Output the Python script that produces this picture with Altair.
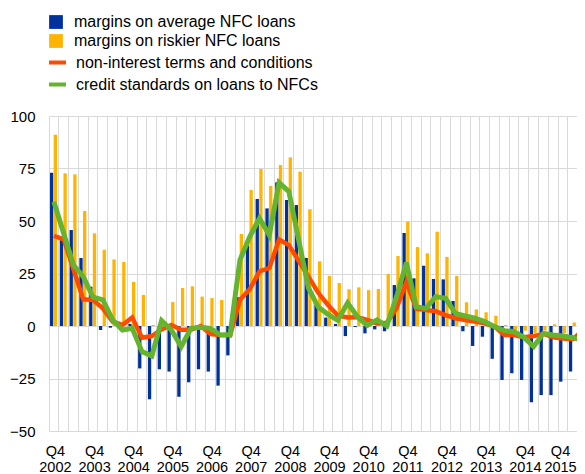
import altair as alt
import pandas as pd

quarters = [f"{y}Q{q}" for y in range(2002, 2017) for q in range(1, 5)][3:3 + 55]

avg_margins = [73, 42, 45.7, 32.4, 18.7, -1.9, -0.8, 0, 1, -20.2, -34.9, -20.6, -21.7, -33.7, -26.8,
               -20.6, -21.7, -28.4, -14, 13.7, 38.3, 60.5, 56, 68.4, 60, 57.6, 32.4, 10, 4, 1,
               -4.8, -0.5, -3.5, -1.6, -2.5, 19.5, 44.3, 22.7, 28.7, 22.4, 22.2, 11.9, -2.5, -9.5,
               -5.1, -15.6, -25.7, -22.5, -25.7, -36.3, -32.9, -32.9, -26.5, -21.7, -31.7]
risky_margins = [91.1, 72.7, 72.2, 54.8, 44.1, 36.3, 31.7, 30.5, 21, 14.8, 0.5, 0, 11.4, 18.1, 18.9,
                 14, 13.3, 12.4, 0, 43.8, 64.8, 74.8, 66.7, 76.7, 80.3, 73.5, 55.6, 30.8, 23.8, 20.5,
                 17.5, 18.4, 17.1, 17.6, 24.8, 33.3, 49.7, 37.6, 34.6, 44.9, 32.9, 23.8, 11.3, 7.9,
                 6.5, 4.9, 0.5, -2.2, -2.2, -3.5, -2.2, 0.8, -3.5, 1.7, 0.5]
non_interest = [42.9, 41.3, 27, 12.7, 12.4, 8.4, 2.1, 0.5, 4.1, -5.6, -4.8, -1.6, 0.5, -1.8, -1.8,
                0, -3.8, -4.3, -4.5, 12.4, 17.5, 26, 27.6, 41.2, 38.5, 31, 23.5, 15.8, 10, 5,
                4.1, 4.2, 2.9, 1.2, 1.5, 8.5, 21, 8.2, 7.6, 7, 5.2, 3.7, 2.9, 2.1, 1.3, -0.3,
                -4.3, -4.3, -5.4, -4.8, -3.8, -5.4, -5.9, -6.3, -2.2]
credit_std = [59.2, 44.1, 29, 23.5, 13.7, 12.4, 2.9, -1.9, -1.1, -12.2, -14.3, 2.5, -1.9, -9.8, -1.1,
              -0.6, -1.1, -4.3, -4, 31.4, 42.5, 51.3, 43.3, 68.3, 64, 41, 18, 9, 5.5, 2.7,
              11, 4.4, 0.3, 2.9, 0, 14, 30.2, 9.2, 8.4, 14, 13.2, 6, 4.8, 3.7, 2.1, -0.3,
              -2.2, -2.7, -5.4, -9.8, -3.5, -4.3, -4.8, -5.6, -6.7]

bar_names = ["margins on average NFC loans", "margins on riskier NFC loans"]
line_names = ["non-interest terms and conditions", "credit standards on loans to NFCs"]
bar_colors = ["#003299", "#FFB400"]
line_colors = ["#FF4B00", "#65B32E"]
y_ticks = [-50, -25, 0, 25, 50, 75, 100]

bar_df = pd.DataFrame({
    "quarter": quarters * 2,
    "series": [bar_names[0]] * len(quarters) + [bar_names[1]] * len(quarters),
    "value": avg_margins + risky_margins,
})
line_df = pd.DataFrame({
    "quarter": quarters * 2,
    "series": [line_names[0]] * len(quarters) + [line_names[1]] * len(quarters),
    "value": non_interest + credit_std,
})

FONT = "Liberation Sans"

x_enc = alt.X(
    "quarter:N", sort=quarters,
    scale=alt.Scale(domain=quarters, paddingInner=0, paddingOuter=0, range=[0, 538.5]),
    axis=alt.Axis(
        title=None, bandPosition=0, grid=True, gridColor="#d9d9d9", gridWidth=1,
        ticks=False, domain=False, labelAngle=0,
        labelOffset={"condition": {"test": "datum.value == '2015Q4'", "value": -2.5}, "value": 1.5},
        labelExpr="substring(datum.value, 4) == 'Q4' ? ['Q4', substring(datum.value, 0, 4)] : ''",
        labelFontSize=14.5, labelFont=FONT, labelColor="#000000", labelPadding=13,
        labelLineHeight=16, labelAlign="center", labelBaseline="top",
    ),
)
y_enc = alt.Y(
    "value:Q",
    scale=alt.Scale(domain=[-50, 100], nice=False, zero=False),
    axis=alt.Axis(
        title=None, values=y_ticks, grid=True, gridColor="#d9d9d9", gridWidth=1,
        ticks=False, domain=False, labelFontSize=15, labelFont=FONT,
        labelColor="#000000", labelPadding=14,
    ),
)

bars = alt.Chart(bar_df).mark_bar().encode(
    x=x_enc,
    y=y_enc,
    xOffset=alt.XOffset(
        "series:N", sort=bar_names,
        scale=alt.Scale(domain=bar_names, paddingInner=0.1, paddingOuter=0.38, align=0.35),
    ),
    fill=alt.Fill(
        "series:N",
        scale=alt.Scale(domain=bar_names, range=bar_colors),
        legend=alt.Legend(
            title=None, orient="none", legendX=-1, legendY=-102, padding=0,
            symbolType="square", symbolSize=190, symbolStrokeWidth=0,
            labelFontSize=16, labelFont=FONT, labelColor="#000000", labelOffset=10,
            labelLimit=400, rowPadding=3,
        ),
    ),
)

stroke_enc = alt.Stroke(
    "series:N",
    scale=alt.Scale(domain=line_names, range=line_colors),
    legend=alt.Legend(
        title=None, orient="none", legendX=-2, legendY=-64, padding=0,
        symbolType="stroke", symbolSize=289, symbolStrokeWidth=4,
        labelFontSize=16, labelFont=FONT, labelColor="#000000", labelOffset=8,
        labelLimit=400, rowPadding=3,
    ),
)

orange = alt.Chart(line_df).transform_filter(
    alt.datum.series == line_names[0]
).mark_line(strokeWidth=4.5).encode(x=x_enc, y=y_enc, stroke=stroke_enc)

green = alt.Chart(line_df).transform_filter(
    alt.datum.series == line_names[1]
).mark_line(strokeWidth=5).encode(x=x_enc, y=y_enc, stroke=stroke_enc)

chart = alt.layer(bars, orange, green).properties(
    width=528, height=315,
    autosize=alt.AutoSizeParams(type="none"),
    padding={"left": 41, "top": 108, "right": 0, "bottom": 44},
).configure_view(stroke=None)

chart.save("out.html", embed_options={"renderer": "svg", "actions": False})
